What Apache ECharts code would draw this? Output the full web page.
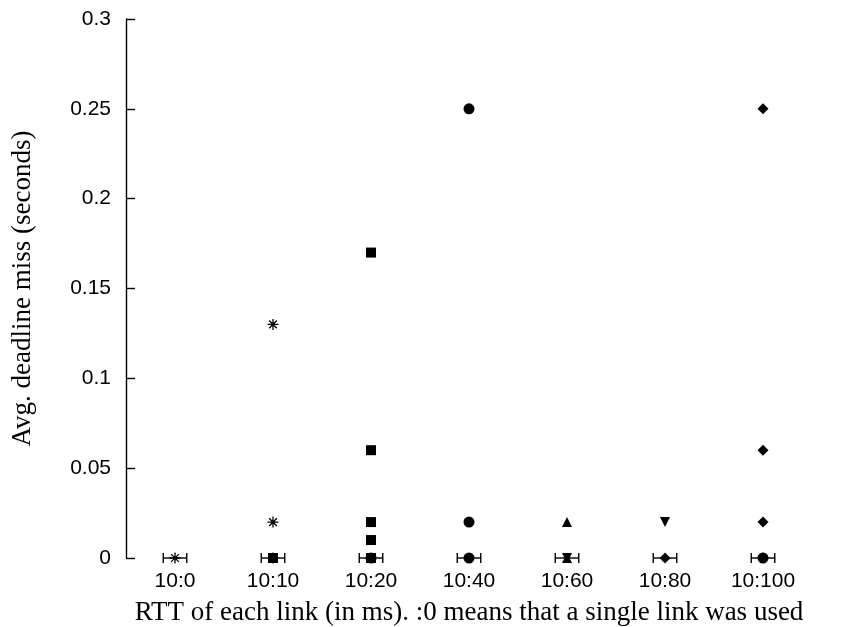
<!DOCTYPE html>
<html><head><meta charset="utf-8">
<script src="https://cdn.jsdelivr.net/npm/echarts@6/dist/echarts.min.js"></script>
<style>html,body{margin:0;padding:0;background:#fff}#c{width:844px;height:627px}</style>
</head><body><div id="c"></div>
<script>
const categories = ['10:0','10:10','10:20','10:40','10:60','10:80','10:100'];
const yTicks = [0,0.05,0.1,0.15,0.2,0.25,0.3];
// [category index, avg deadline miss]
const asteriskPts = [[0,0],[1,0.13],[1,0.02],[1,0]];
const squarePts   = [[1,0],[2,0.17],[2,0.06],[2,0.02],[2,0.01],[2,0]];
const circlePts   = [[2,0],[3,0.25],[3,0.02],[3,0],[6,0]];
const trianglePts = [[4,0.02],[4,0]];
const triDownPts  = [[4,0],[5,0.02]];
const diamondPts  = [[5,0],[6,0.25],[6,0.06],[6,0.02],[6,0]];
// horizontal error bars: [category index, y, low, high]
const errorBars = [[0,0,-0.12,0.12],[1,0,0.88,1.12],[2,0,1.88,2.12],[3,0,2.88,3.12],[4,0,3.88,4.12],[5,0,4.88,5.12],[6,0,5.88,6.12]];

const asteriskPath = 'path://M5,0L5,10M0,5L10,5M1.5,1.5L8.5,8.5M1.5,8.5L8.5,1.5';
const chart = echarts.init(document.getElementById('c'));
function sc(data, symbol, size, extra){
  return Object.assign({type:'scatter', data:data, symbol:symbol, symbolSize:size,
    itemStyle:{color:'#000', opacity:1}, z:3, animation:false}, extra||{});
}
chart.setOption({
  animation:false,
  grid:{left:126, right:32, top:19, bottom:69, containLabel:false, outerBoundsMode:'none'},
  xAxis:{type:'value', min:-0.5, max:6.5, interval:0.5,
    axisLine:{show:false}, axisTick:{show:false}, splitLine:{show:false},
    axisLabel:{color:'#000', fontFamily:'Liberation Sans', fontSize:21, margin:13,
      formatter:v=>(Math.abs(v-Math.round(v))<1e-6 ? (categories[Math.round(v)]||'') : '')},
    name:'RTT of each link (in ms). :0 means that a single link was used', nameLocation:'middle', nameGap:41,
    nameTextStyle:{color:'#000', fontFamily:'Liberation Serif', fontSize:27}
  },
  yAxis:{type:'value', min:0, max:0.3, interval:0.05,
    axisLine:{show:true, onZero:false, lineStyle:{color:'#000', width:1.4}},
    axisTick:{show:true, inside:true, length:9, lineStyle:{color:'#000', width:1.4}},
    splitLine:{show:false},
    axisLabel:{color:'#000', fontFamily:'Liberation Sans', fontSize:21, margin:15,
      formatter:v=>String(+v.toFixed(2))},
    name:'Avg. deadline miss (seconds)', nameLocation:'middle', nameGap:90, nameRotate:90,
    nameTextStyle:{color:'#000', fontFamily:'Liberation Serif', fontSize:27}
  },
  series:[
    {type:'custom', data:errorBars, z:2, renderItem:function(params, api){
      const y = api.coord([0, api.value(1)])[1];
      const x1 = api.coord([api.value(2),0])[0];
      const x2 = api.coord([api.value(3),0])[0];
      const h = 5;
      const st = {stroke:'#000', lineWidth:1.4};
      return {type:'group', children:[
        {type:'line', shape:{x1:x1,y1:y,x2:x2,y2:y}, style:st},
        {type:'line', shape:{x1:x1,y1:y-h,x2:x1,y2:y+h}, style:st},
        {type:'line', shape:{x1:x2,y1:y-h,x2:x2,y2:y+h}, style:st}
      ]};
    }, encode:{x:0, y:1}},
    sc(squarePts,'rect',10),
    sc(circlePts,'circle',11),
    sc(trianglePts,'triangle',10),
    sc(triDownPts,'triangle',10,{symbolRotate:180}),
    sc(diamondPts,'diamond',11),
    sc(asteriskPts, asteriskPath, 11, {itemStyle:{color:'none', borderColor:'#000', borderWidth:1.3, opacity:1}, z:4})
  ]
});
</script></body></html>
